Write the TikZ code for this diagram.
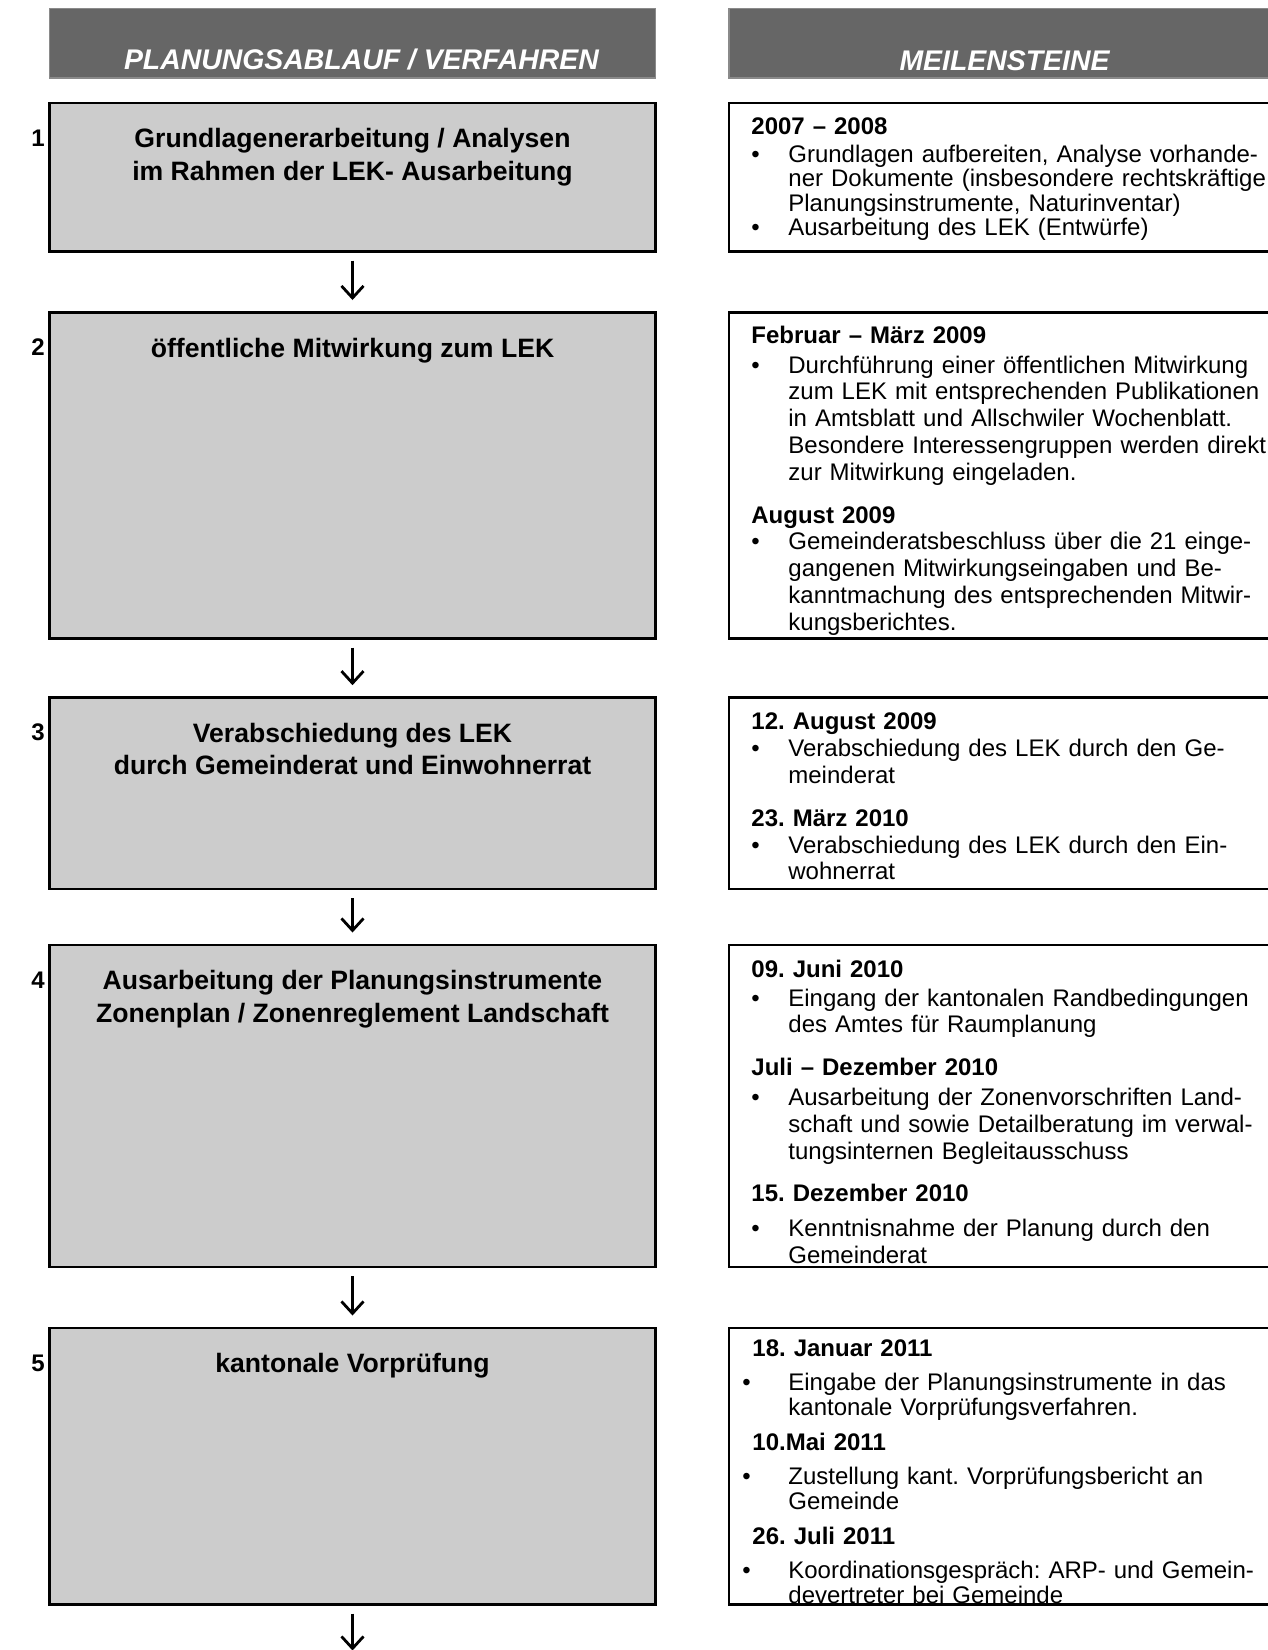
\documentclass[tikz,border=0pt]{standalone}
\usepackage{fontspec}
\setmainfont{Liberation Sans}
\usetikzlibrary{arrows.meta,positioning,calc}
\frenchspacing

\newlength\px
\setlength\px{0.5pt}

\definecolor{HeadGray}{HTML}{666666}
\definecolor{HeadEdge}{HTML}{8A8A8A}
\definecolor{StepFill}{HTML}{CCCCCC}

% Meilenstein-Zeilen
\newcommand\mdatum[1]{\par\noindent{\bfseries #1}\par}
\newcommand\mpunkt[2][37]{\par\noindent\hangindent=#1\px\hangafter=1%
  \makebox[#1\px][l]{•}#2\par}

\tikzset{
  headbar/.style={anchor=north west, inner sep=0pt, outer sep=0pt,
    fill=HeadGray, draw=HeadEdge, line width=1.5\px, minimum height=69.5\px},
  headtext/.style={inner sep=0pt, text=white,
    font=\fontsize{14.2}{17}\selectfont\bfseries\itshape},
  stepbox/.style={anchor=north west, inner sep=0pt, outer sep=0pt,
    fill=StepFill, draw=black, line width=2.5\px, minimum width=606\px},
  steptitle/.style={inner sep=0pt, align=center,
    font=\fontsize{13.3}{16.3}\selectfont\bfseries},
  stepnum/.style={inner sep=0pt, font=\fontsize{12}{14}\selectfont\bfseries},
  msbox/.style={anchor=north west, inner sep=0pt, outer sep=0pt,
    fill=white, draw=black, line width=2.5\px, minimum width=551\px},
  mstext/.style={inner sep=0pt, text width=560\px, align=left,
    font=\fontsize{12}{13.4}\selectfont},
  flow/.style={line width=1.4pt, -{Straight Barb[length=6pt,width=11pt]}}
}

\begin{document}
\begin{tikzpicture}[x=0.5pt, y=-0.5pt]
\useasboundingbox (0,0) rectangle (1268,1650);

% Kopfzeilen
\node[headbar, minimum width=606\px] (h1) at (49.5,8.4) {};
\node[headtext, above=7\px of h1.south, xshift=9\px] (h1t) {PLANUNGSABLAUF / VERFAHREN};
\node[headbar, minimum width=551\px] (h2) at (729,8.4) {};
\node[headtext, above=7\px of h2.south] (h2t) {MEILENSTEINE};

% Verfahrensschritte
\node[stepbox, minimum height=148.4\px] (s1) at (49.5,103.1) {};
\node[stepbox, minimum height=326.2\px] (s2) at (49.5,312.5) {};
\node[stepbox, minimum height=191.5\px] (s3) at (49.5,697.7) {};
\node[stepbox, minimum height=322\px] (s4) at (49.5,945) {};
\node[stepbox, minimum height=276.5\px] (s5) at (49.5,1328) {};

\node[steptitle, below=25\px of s1.north] (t1)
  {Grundlagenerarbeitung / Analysen\\im Rahmen der LEK- Ausarbeitung};
\node[steptitle, below=25\px of s2.north] (t2)
  {öffentliche Mitwirkung zum LEK};
\node[steptitle, below=25\px of s3.north] (t3)
  {Verabschiedung des LEK\\durch Gemeinderat und Einwohnerrat};
\node[steptitle, below=25\px of s4.north] (t4)
  {Ausarbeitung der Planungsinstrumente\\Zonenplan / Zonenreglement Landschaft};
\node[steptitle, below=25\px of s5.north] (t5)
  {kantonale Vorprüfung};

\foreach \i in {1,...,5}
  \node[stepnum] (n\i) at ($(s\i.north west)+(-11.5,35)$) {\i};

% Pfeile
\foreach \i/\j in {1/2,2/3,3/4,4/5}
  \draw[flow] ($(s\i.south)+(0,9)$) -- ($(s\j.north)+(0,-12.5)$);
\coordinate (ende) at ($(s5.south)+(0,46)$);
\draw[flow] ($(s5.south)+(0,9)$) -- (ende);

% Meilensteine
\node[msbox, minimum height=148.4\px] (m1) at (729,103.1) {};
\node[msbox, minimum height=326.2\px] (m2) at (729,312.5) {};
\node[msbox, minimum height=191.5\px] (m3) at (729,697.7) {};
\node[msbox, minimum height=322\px] (m4) at (729,945) {};
\node[msbox, minimum height=276.5\px] (m5) at (729,1328) {};

\node[mstext, font=\fontsize{12}{12.25}\selectfont,
      below right=6.6\px and 22\px of m1.north west] (m1t) {%
  \mdatum{2007 – 2008}\vspace{3\px}
  \mpunkt{Grundlagen aufbereiten, Analyse vorhande-\newline ner Dokumente (insbesondere rechtskräftige\newline Planungsinstrumente, Naturinventar)}
  \mpunkt{Ausarbeitung des LEK (Entwürfe)}};

\node[mstext, below right=3.5\px and 22\px of m2.north west] (m2t) {%
  \mdatum{Februar – März 2009}\vspace{3\px}
  \mpunkt{Durchführung einer öffentlichen Mitwirkung\newline zum LEK mit entsprechenden Publikationen\newline in Amtsblatt und Allschwiler Wochenblatt.\newline Besondere Interessengruppen werden direkt\newline zur Mitwirkung eingeladen.}
  \vspace{16\px}
  \mdatum{August 2009}
  \mpunkt{Gemeinderatsbeschluss über die 21 einge-\newline gangenen Mitwirkungseingaben und Be-\newline kanntmachung des entsprechenden Mitwir-\newline kungsberichtes.}};

\node[mstext, below right=5\px and 22\px of m3.north west] (m3t) {%
  \mdatum{12. August 2009}
  \mpunkt{Verabschiedung des LEK durch den Ge-\newline meinderat}
  \vspace{16\px}
  \mdatum{23. März 2010}
  \mpunkt{Verabschiedung des LEK durch den Ein-\newline wohnerrat}};

\node[mstext, below right=5\px and 22\px of m4.north west] (m4t) {%
  \mdatum{09. Juni 2010}\vspace{2\px}
  \mpunkt{Eingang der kantonalen Randbedingungen\newline des Amtes für Raumplanung}
  \vspace{16\px}
  \mdatum{Juli – Dezember 2010}\vspace{3\px}
  \mpunkt{Ausarbeitung der Zonenvorschriften Land-\newline schaft und sowie Detailberatung im verwal-\newline tungsinternen Begleitausschuss}
  \vspace{16\px}
  \mdatum{15. Dezember 2010}\vspace{8\px}
  \mpunkt{Kenntnisnahme der Planung durch den\newline Gemeinderat}};

\node[mstext, font=\fontsize{12}{12.5}\selectfont,
      below right=3\px and 13\px of m5.north west] (m5t) {%
  \mdatum{\hspace{10\px}18. Januar 2011}\vspace{9\px}
  \mpunkt[46]{Eingabe der Planungsinstrumente in das\newline kantonale Vorprüfungsverfahren.}
  \vspace{10\px}
  \mdatum{\hspace{10\px}10.Mai 2011}\vspace{9\px}
  \mpunkt[46]{Zustellung kant. Vorprüfungsbericht an\newline Gemeinde}
  \vspace{10\px}
  \mdatum{\hspace{10\px}26. Juli 2011}\vspace{9\px}
  \mpunkt[46]{Koordinationsgespräch: ARP- und Gemein-\newline devertreter bei Gemeinde}};

\end{tikzpicture}
\end{document}
